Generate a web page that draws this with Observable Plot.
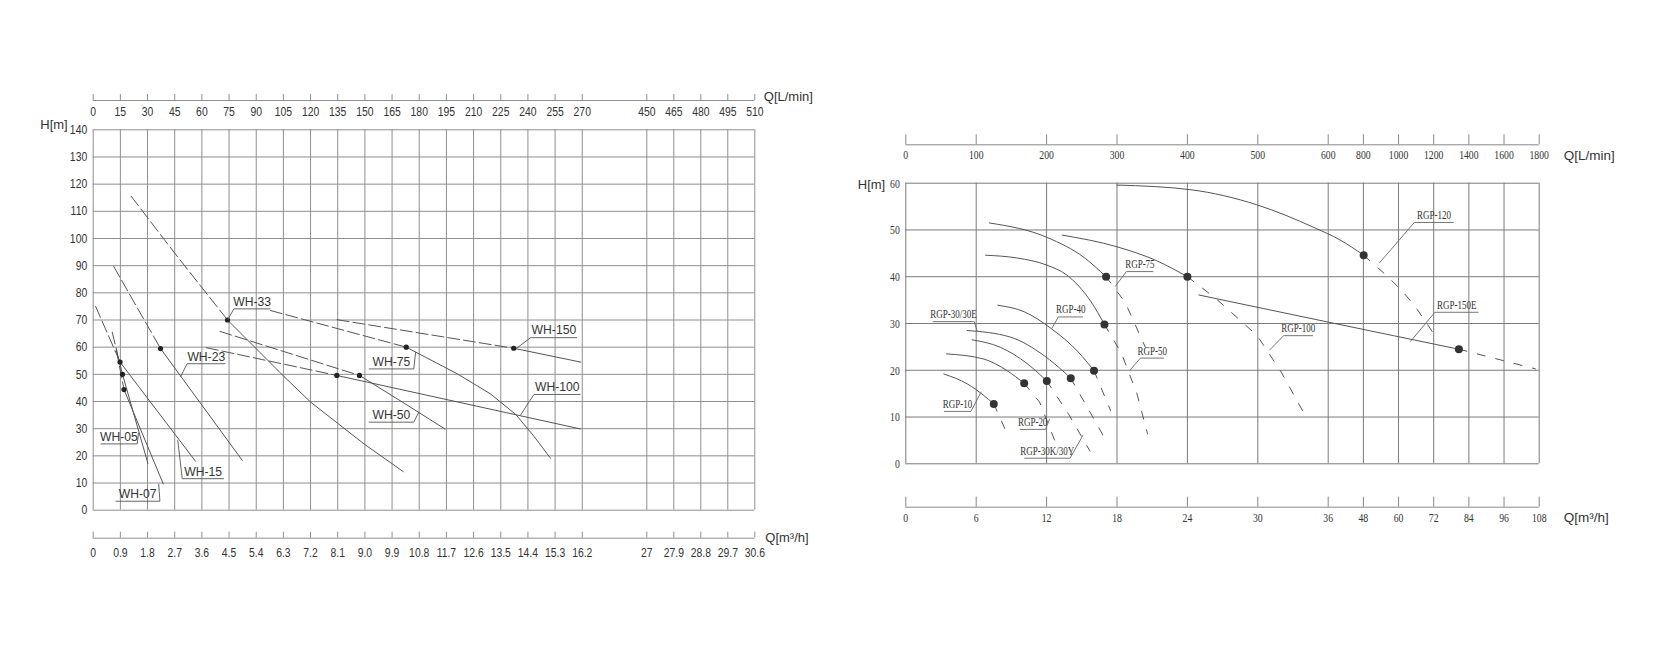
<!DOCTYPE html>
<html><head><meta charset="utf-8">
<script src="https://cdn.jsdelivr.net/npm/d3@7"></script>
<script src="https://cdn.jsdelivr.net/npm/@observablehq/plot@0.6"></script>
<style>
body{margin:0;background:#fff;}
#wrap{width:1656px;height:670px;display:flex;background:#fff;}
#wrap svg{flex:none;}
</style></head><body><div id="wrap"></div>
<script>
// ================= LEFT PANEL (WH series) =================
const whFlowTicks = [0,0.9,1.8,2.7,3.6,4.5,5.4,6.3,7.2,8.1,9.0,9.9,10.8,11.7,12.6,13.5,14.4,15.3,16.2,27,27.9,28.8,29.7,30.6];
const whFlowLabels = ["0","0.9","1.8","2.7","3.6","4.5","5.4","6.3","7.2","8.1","9.0","9.9","10.8","11.7","12.6","13.5","14.4","15.3","16.2","27","27.9","28.8","29.7","30.6"];
const whLpmLabels = ["0","15","30","45","60","75","90","105","120","135","150","165","180","195","210","225","240","255","270","450","465","480","495","510"];
const whHeadTicks = [0,10,20,30,40,50,60,70,80,90,100,110,120,130,140];

// each series: dashed part, solid part, duty point  [Q m3/h, H m]
const wh05  = {name:"WH-05",  dash:[[0.63,65.5],[0.97,50]], solid:[[0.97,50],[1.81,17.3]], duty:[0.97,50]};
const wh07  = {name:"WH-07",  dash:[[0.77,58.8],[1.02,44.4]], solid:[[1.02,44.4],[2.32,9.7]], duty:[1.02,44.4]};
const wh15  = {name:"WH-15",  dash:[[0.08,75],[0.89,54.5]], solid:[[0.89,54.5],[3.39,18]], duty:[0.89,54.5]};
const wh23  = {name:"WH-23",  dash:[[0.68,89.7],[2.23,59.5]], solid:[[2.23,59.5],[4.94,18.3]], duty:[2.23,59.5]};
const wh33  = {name:"WH-33",  dash:[[1.26,115.5],[2.7,94.6],[4.45,70]], solid:[[4.45,70],[6.32,49.2],[7.2,39.8],[8.97,24.4],[10.27,14.2]], duty:[4.45,70]};
const wh50  = {name:"WH-50",  dash:[[4.2,65.8],[8.82,49.6]], solid:[[8.82,49.6],[10.24,39.8],[11.65,29.9]], duty:[8.82,49.6]};
const wh75  = {name:"WH-75",  dash:[[5.87,73.5],[10.37,60]], solid:[[10.37,60],[12.06,50.2],[13.16,42.8],[14.0,35.2],[14.6,27.2],[15.15,19.1]], duty:[10.37,60]};
const wh100 = {name:"WH-100", dash:[[3.75,59.8],[8.07,49.6]], solid:[[8.07,49.6],[16.14,29.9]], duty:[8.07,49.6]};
const wh150 = {name:"WH-150", dash:[[8.08,70.1],[13.93,59.6]], solid:[[13.93,59.6],[16.15,54.5]], duty:[13.93,59.6]};
const whSeries = [wh05, wh07, wh15, wh23, wh33, wh50, wh75, wh100, wh150];

// label annotations: underline Q-range, underline H, leader from underline "start"/"end" to point
const whLabels = [
  {name:"WH-33",  u:[4.66,5.87],  h:74.1, from:"start", to:[4.45,70]},
  {name:"WH-23",  u:[3.11,4.38],  h:53.9, from:"start", to:[2.89,49.0]},
  {name:"WH-75",  u:[9.13,10.62], h:52.0, from:"end",   to:[10.68,58.2]},
  {name:"WH-150", u:[14.49,16.03],h:63.5, from:"start", to:[14.0,59.4]},
  {name:"WH-100", u:[14.6,16.14], h:42.6, from:"start", to:[14.15,34.9]},
  {name:"WH-50",  u:[9.13,10.62], h:32.4, from:"end",   to:[10.79,36.2]},
  {name:"WH-05",  u:[0.24,1.46],  h:24.4, from:"end",   to:[1.5,28.5]},
  {name:"WH-15",  u:[2.95,4.33],  h:11.6, from:"start", to:[2.80,25.8]},
  {name:"WH-07",  u:[0.74,2.21],  h:3.3,  from:"end",   to:[2.17,9.7]}
];

// ================= RIGHT PANEL (RGP series) =================
const rgpFlowTicks = [0,6,12,18,24,30,36,48,60,72,84,96,108];
const rgpFlowLabels = ["0","6","12","18","24","30","36","48","60","72","84","96","108"];
const rgpLpmLabels = ["0","100","200","300","400","500","600","800","1000","1200","1400","1600","1800"];
const rgpHeadTicks = [0,10,20,30,40,50,60];

const rgp10  = {name:"RGP-10",  solid:[[3.24,19.2],[5.23,17.1],[6.65,14.6],[7.5,12.8]], dash:[[7.5,12.8],[8.64,6.4]], duty:[7.5,12.8]};
const rgp20  = {name:"RGP-20",  solid:[[3.47,23.5],[6.65,22.4],[8.64,19.9],[10.09,17.2]], dash:[[10.09,17.2],[11.4,13.2],[12.8,4.3]], duty:[10.09,17.2]};
const rgp30k = {name:"RGP-30K/30Y", solid:[[5.66,26.5],[8.07,24.9],[10.35,21.4],[12.02,17.7]], dash:[[12.02,17.7],[13.9,10.5],[15.7,2.7]], duty:[12.02,17.7]};
const rgp30e = {name:"RGP-30/30E", solid:[[5.23,28.5],[8.9,27.1],[11.8,23.1],[13.5,19.6],[14.06,18.3]], dash:[[14.06,18.3],[15.6,11.5],[16.9,5.7]], duty:[14.06,18.3]};
const rgp40  = {name:"RGP-40",  solid:[[7.84,33.9],[10.1,32.5],[12.4,28.9],[14.7,23.9],[16.04,19.9]], dash:[[16.04,19.9],[17.45,11.4]], duty:[16.04,19.9]};
const rgp50  = {name:"RGP-50",  solid:[[6.8,44.6],[9.5,44.0],[12,42.5],[13.7,40.4],[15.8,34.6],[16.93,29.8]], dash:[[16.93,29.8],[18.4,23.5],[19.7,15],[20.6,6.4]], duty:[16.93,29.8]};
const rgp75  = {name:"RGP-75",  solid:[[7.13,51.5],[12.05,48.4],[15.2,44.1],[17.07,40]], dash:[[17.07,40],[18.7,34.5],[20.4,25]], duty:[17.07,40]};
const rgp100 = {name:"RGP-100", solid:[[13.33,48.9],[18.0,46.4],[21.4,43.4],[24.0,40]], dash:[[24,40],[26.4,35.4],[29.95,27.4],[32,19.6],[34.2,9.6]], duty:[24,40]};
const rgp120 = {name:"RGP-120", solid:[[18,59.6],[24.3,58.6],[29.9,55.4],[34.9,50.4],[39.95,47.9],[48.1,44.6]], dash:[[48.1,44.6],[50.4,43.3],[55.5,40.5],[61.2,37.0],[65.5,33.8],[69.75,29.9],[73.2,26.7]], duty:[48.1,44.6]};
const rgp150 = {name:"RGP-150E", solid:[[24.97,36.1],[36,30.3],[80.6,24.5]], dash:[[80.6,24.5],[106.7,20.3]], duty:[80.6,24.5]};
const rgpSeries = [rgp10, rgp20, rgp30k, rgp30e, rgp40, rgp50, rgp75, rgp100, rgp120, rgp150];

const rgpLabels = [
  {name:"RGP-120",     u:[65.4,78.8], h:51.6, from:"start", to:[53.4,42.9]},
  {name:"RGP-150E",    u:[72.4,87.3], h:32.4, from:"start", to:[64,26.1]},
  {name:"RGP-75",      u:[18.8,21.1], h:41.1, from:"start", to:[17.84,37.9]},
  {name:"RGP-100",     u:[32.2,34.7], h:27.4, from:"start", to:[31.0,24.3]},
  {name:"RGP-50",      u:[20.0,22.0], h:22.6, from:"start", to:[19.1,20]},
  {name:"RGP-40",      u:[13.0,15.1], h:31.4, from:"start", to:[12.44,28.9]},
  {name:"RGP-30/30E",  u:[2.3,5.83],  h:30.4, from:"end",   to:[6.08,28.4]},
  {name:"RGP-10",      u:[3.25,5.55], h:11.2, from:"end",   to:[6.43,15.4]},
  {name:"RGP-20",      u:[9.72,11.9], h:7.36, from:"end",   to:[12.26,9.6]},
  {name:"RGP-30K/30Y", u:[10.1,14.0], h:1.2,  from:"end",   to:[15.1,6.1]}
];

// ---------- helpers ----------
function rows(series, part) {
  return series.flatMap(s => (s[part] || []).map(([q, h]) => ({series: s.name, q, h})));
}
function duties(series) { return series.map(s => ({series: s.name, q: s.duty[0], h: s.duty[1]})); }
function labelMarks(labels, opts) {
  const lineStyle = {stroke: opts.stroke, strokeWidth: 0.9};
  return [
    Plot.link(labels, {x1: d => d.u[0], x2: d => d.u[1], y1: d => d.h, y2: d => d.h, ...lineStyle}),
    Plot.link(labels, {x1: d => d.from === "start" ? d.u[0] : d.u[1], y1: d => d.h, x2: d => d.to[0], y2: d => d.to[1], ...lineStyle}),
    Plot.text(labels, {x: d => (d.u[0] + d.u[1]) / 2, y: d => d.h, text: "name", dy: opts.dy, lineAnchor: "middle",
      fontFamily: opts.font, fontSize: opts.size, fill: "#333", textAnchor: "middle"})
  ];
}

// font stacks; each gets a horizontal condensing factor applied after rendering
const narrow = "'Liberation Sans Narrow','Liberation Sans',sans-serif";
const labelSans = "'Liberation Sans',Arimo,sans-serif";
const sans = "'Liberation Sans',Arial,sans-serif";
const serif = "'Liberation Serif',Tinos,serif";
const condense = {[narrow]: 0.8, [labelSans]: 0.9, [serif]: 0.72};

const txt = (o) => ({lineAnchor: "middle", fill: "#333", ...o});

// ---------- LEFT PLOT ----------
const LW = 830, LH = 670;
const left = Plot.plot({
  width: LW, height: LH,
  marginTop: 94, marginBottom: LH - 537.7, marginLeft: 92.7, marginRight: LW - 754.3,
  x: {type: "linear", domain: [0, 16.2, 27, 30.6], range: [92.7, 92.7 + 18 * 27.17, 646.3, 754.3], axis: null},
  y: {type: "linear", domain: [0, 140], range: [509.7, 129.3], axis: null},
  style: {background: "#fff", overflow: "visible"},
  marks: [
    Plot.ruleX(whFlowTicks, {x: d => d, y1: 0, y2: 140, stroke: "#8f8f8f", strokeWidth: 1}),
    Plot.ruleY(whHeadTicks, {y: d => d, x1: 0, x2: 30.6, stroke: "#8f8f8f", strokeWidth: 1}),
    // auxiliary axes (top L/min, bottom m3/h)
    Plot.ruleY([140], {y: d => d, x1: 0, x2: 30.6, dy: -29.3, stroke: "#8f8f8f"}),
    Plot.ruleY([0], {y: d => d, x1: 0, x2: 30.6, dy: 28, stroke: "#8f8f8f"}),
    Plot.ruleX(whFlowTicks, {x: d => d, insetBottom: 437.7, stroke: "#8f8f8f"}),
    Plot.ruleX(whFlowTicks, {x: d => d, insetTop: 437.7, stroke: "#8f8f8f"}),
    Plot.text(whFlowTicks, txt({x: d => d, frameAnchor: "top", dy: 17.3, text: (d, i) => whLpmLabels[i], fontFamily: narrow, fontSize: 13})),
    Plot.text(whFlowTicks, txt({x: d => d, frameAnchor: "bottom", dy: 14.3, text: (d, i) => whFlowLabels[i], fontFamily: narrow, fontSize: 13})),
    Plot.text(whHeadTicks, txt({y: d => d, frameAnchor: "left", dx: -6, textAnchor: "end", text: d => String(d), fontFamily: narrow, fontSize: 13})),
    Plot.text(["H[m]"], txt({frameAnchor: "top-left", dx: -39.2, dy: 30, textAnchor: "middle", text: d => d, fontFamily: sans, fontSize: 13})),
    Plot.text(["Q[L/min]"], txt({frameAnchor: "top-right", dx: 9, dy: 2, textAnchor: "start", text: d => d, fontFamily: sans, fontSize: 13})),
    Plot.text(["Q[m³/h]"], txt({frameAnchor: "bottom-right", dx: 10.5, dy: -0.5, textAnchor: "start", text: d => d, fontFamily: sans, fontSize: 13})),
    // curves
    Plot.line(rows(whSeries, "dash"), {x: "q", y: "h", z: "series", stroke: "#555", strokeWidth: 1, strokeDasharray: "12,4"}),
    Plot.line(rows(whSeries, "solid"), {x: "q", y: "h", z: "series", stroke: "#555", strokeWidth: 1}),
    Plot.dot(duties(whSeries), {x: "q", y: "h", r: 2.6, fill: "#222", stroke: "none"}),
    ...labelMarks(whLabels, {stroke: "#555", dy: -7.5, font: labelSans, size: 13.5})
  ]
});

// ---------- RIGHT PLOT ----------
const RW = 826, RH = 670;
const right = Plot.plot({
  width: RW, height: RH,
  marginTop: 134.3, marginBottom: RH - 506.7, marginLeft: 75.3, marginRight: RW - 708.7,
  x: {type: "linear", domain: [0, 36, 108], range: [75.3, 497.7, 708.7], axis: null},
  y: {type: "linear", domain: [0, 60], range: [463.3, 182.7], axis: null},
  style: {background: "#fff", overflow: "visible"},
  marks: [
    Plot.ruleX(rgpFlowTicks, {x: d => d, y1: 0, y2: 60, stroke: "#7a7a7a", strokeWidth: 1}),
    Plot.ruleY(rgpHeadTicks, {y: d => d, x1: 0, x2: 108, stroke: "#7a7a7a", strokeWidth: 1}),
    Plot.ruleY([60], {y: d => d, x1: 0, x2: 108, dy: -38.4, stroke: "#888"}),
    Plot.ruleY([0], {y: d => d, x1: 0, x2: 108, dy: 43.4, stroke: "#888"}),
    Plot.ruleX(rgpFlowTicks, {x: d => d, insetBottom: 362.4, stroke: "#888"}),
    Plot.ruleX(rgpFlowTicks, {x: d => d, insetTop: 362.4, stroke: "#888"}),
    Plot.text(rgpFlowTicks, txt({x: d => d, frameAnchor: "top", dy: 20, text: (d, i) => rgpLpmLabels[i], fontFamily: serif, fontSize: 13.5})),
    Plot.text(rgpFlowTicks, txt({x: d => d, frameAnchor: "bottom", dy: 10.5, text: (d, i) => rgpFlowLabels[i], fontFamily: serif, fontSize: 13.5})),
    Plot.text(rgpHeadTicks, txt({y: d => d, frameAnchor: "left", dx: -6, textAnchor: "end", text: d => String(d), fontFamily: serif, fontSize: 13.5})),
    Plot.text(["H[m]"], txt({frameAnchor: "top-left", dx: -34.3, dy: 49.7, textAnchor: "middle", text: d => d, fontFamily: sans, fontSize: 13})),
    Plot.text(["Q[L/min]"], txt({frameAnchor: "top-right", dx: 24.5, dy: 20.7, textAnchor: "start", text: d => d, fontFamily: sans, fontSize: 13.5})),
    Plot.text(["Q[m³/h]"], txt({frameAnchor: "bottom-right", dx: 24.5, dy: 10.8, textAnchor: "start", text: d => d, fontFamily: sans, fontSize: 13.5})),
    Plot.line(rows(rgpSeries, "dash"), {x: "q", y: "h", z: "series", stroke: "#555", strokeWidth: 1, strokeDasharray: "8,11"}),
    Plot.line(rows(rgpSeries, "solid"), {x: "q", y: "h", z: "series", stroke: "#555", strokeWidth: 1, curve: "monotone-x"}),
    Plot.dot(duties(rgpSeries), {x: "q", y: "h", r: 4, fill: "#333", stroke: "none"}),
    ...labelMarks(rgpLabels, {stroke: "#666", dy: -7.5, font: serif, size: 12.5})
  ]
});

// horizontal condensing of text (style only)
function applyCondense(svg) {
  svg.querySelectorAll("g[font-family]").forEach(g => {
    const f = condense[g.getAttribute("font-family")];
    if (!f) return;
    g.querySelectorAll("text").forEach(t => {
      const tr = t.getAttribute("transform") || "";
      if (tr.includes("translate")) {
        t.setAttribute("transform", tr + ` scale(${f},1)`);
      } else {
        const x = +t.getAttribute("x") || 0, y = +t.getAttribute("y") || 0;
        t.removeAttribute("x"); t.removeAttribute("y");
        t.setAttribute("transform", `translate(${x},${y}) scale(${f},1) ${tr}`);
      }
    });
  });
}
applyCondense(left); applyCondense(right);

document.getElementById("wrap").append(left, right);
</script></body></html>
